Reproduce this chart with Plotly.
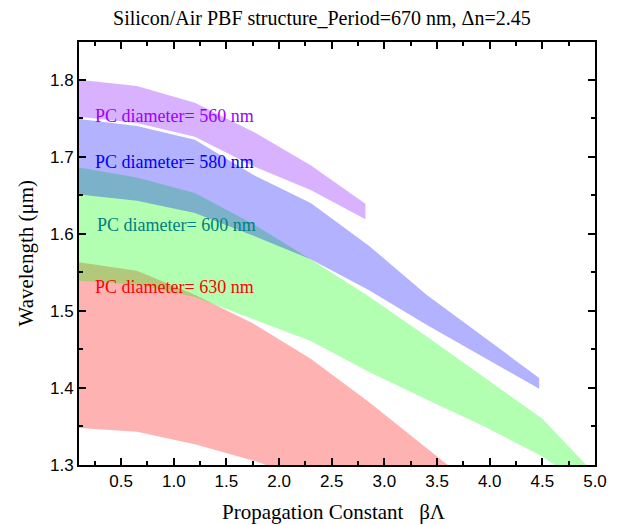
import plotly.graph_objects as go

# ---- data ----
beta_560 = [0.1, 0.65, 1.2, 1.75, 2.3, 2.82]
upper_560 = [1.800, 1.792, 1.770, 1.733, 1.689, 1.639]
lower_560 = [1.752, 1.744, 1.726, 1.688, 1.657, 1.619]

beta_580 = [0.1, 0.65, 1.2, 1.75, 2.3, 2.85, 3.4, 3.95, 4.47]
upper_580 = [1.749, 1.740, 1.722, 1.677, 1.640, 1.585, 1.521, 1.466, 1.413]
lower_580 = [1.651, 1.643, 1.627, 1.598, 1.567, 1.527, 1.482, 1.439, 1.399]

beta_600 = [0.1, 0.65, 1.2, 1.75, 2.3, 2.85, 3.4, 3.95, 4.5, 5.05]
upper_600 = [1.686, 1.673, 1.653, 1.613, 1.567, 1.519, 1.467, 1.413, 1.360, 1.281]
lower_600 = [1.539, 1.534, 1.518, 1.490, 1.461, 1.421, 1.385, 1.350, 1.311, 1.260]

beta_630 = [0.1, 0.65, 1.2, 1.75, 2.3, 2.85, 3.4, 3.95]
upper_630 = [1.563, 1.552, 1.521, 1.484, 1.438, 1.382, 1.322, 1.262]
lower_630 = [1.348, 1.343, 1.327, 1.306, 1.280, 1.250, 1.220, 1.190]

labels = ["PC diameter= 630 nm", "PC diameter= 600 nm",
          "PC diameter= 580 nm", "PC diameter= 560 nm"]
label_x = [0.23, 0.25, 0.23, 0.23]
label_y = [1.531, 1.612, 1.693, 1.753]

fills = ["rgba(255,0,0,0.3)", "rgba(0,255,0,0.3)",
         "rgba(0,0,255,0.3)", "rgba(128,0,255,0.3)"]
text_colors = ["#ff0000", "#008080", "#0000ff", "#9900ff"]

bands = [(beta_630, upper_630, lower_630),
         (beta_600, upper_600, lower_600),
         (beta_580, upper_580, lower_580),
         (beta_560, upper_560, lower_560)]

SERIF = "Liberation Serif, Times New Roman, serif"
SANS = "Liberation Sans, Arial, sans-serif"

fig = go.Figure()
for (b, up, lo), fc, name in zip(bands, fills, labels):
    fig.add_trace(go.Scatter(
        x=list(b) + list(b)[::-1],
        y=list(up) + list(lo)[::-1],
        fill="toself", fillcolor=fc, mode="lines",
        line=dict(width=0, color=fc), hoverinfo="skip",
        showlegend=False, name=name))

for t, x, y, c in zip(labels, label_x, label_y, text_colors):
    fig.add_annotation(x=x, y=y, text=t, showarrow=False, xanchor="left",
                       yanchor="middle", font=dict(family=SERIF, size=18, color=c))

axis_common = dict(
    showline=True, linecolor="black", linewidth=2, mirror="ticks",
    ticks="inside", ticklen=7, tickwidth=1.5, tickcolor="black",
    showgrid=False, zeroline=False,
    tickfont=dict(family=SANS, size=17, color="black"),
)

fig.update_xaxes(range=[0.1, 5.0], tick0=0.5, dtick=0.5, tickformat=".1f",
                 minor=dict(dtick=0.25, tick0=0.25, ticks="inside", ticklen=4,
                            tickwidth=1.5, tickcolor="black"),
                 **axis_common)
fig.update_yaxes(range=[1.3, 1.849], tick0=1.3, dtick=0.1, tickformat=".1f",
                 minor=dict(dtick=0.05, tick0=1.35, ticks="inside", ticklen=4,
                            tickwidth=1.5, tickcolor="black"),
                 **axis_common)

fig.add_annotation(xref="paper", yref="paper", x=0.495, y=0, yshift=-47,
                   text="Propagation Constant\u00a0\u00a0\u00a0βΛ", showarrow=False,
                   xanchor="center", yanchor="middle",
                   font=dict(family=SERIF, size=21, color="black"))
fig.add_annotation(xref="paper", yref="paper", x=0, y=0.5, xshift=-54,
                   text="Wavelength (μm)", showarrow=False, textangle=-90,
                   xanchor="center", yanchor="middle",
                   font=dict(family=SERIF, size=21, color="black"))

fig.update_layout(
    width=619, height=525,
    margin=dict(l=79, r=13, t=42, b=60),
    plot_bgcolor="white", paper_bgcolor="white",
    title=dict(text="Silicon/Air PBF structure_Period=670 nm, Δn=2.45",
               x=0.52, xanchor="center", y=1 - 18 / 525, yanchor="middle",
               font=dict(family=SERIF, size=20, color="black")),
    showlegend=False,
)

fig.write_html("out.html")
